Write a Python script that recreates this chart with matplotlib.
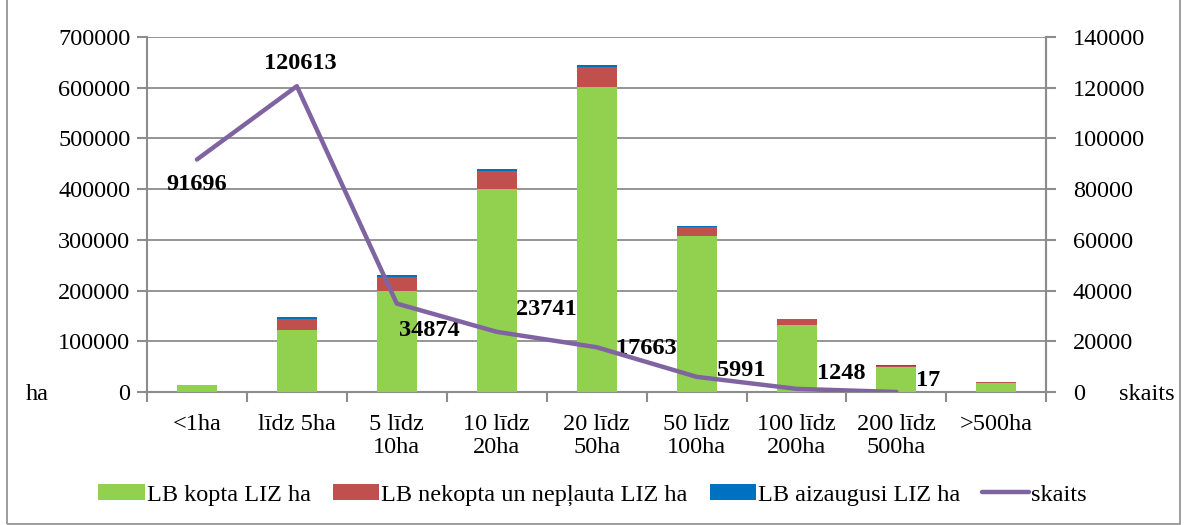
import numpy as np
import matplotlib.pyplot as plt
from matplotlib.patches import Rectangle

# data
categories = ['<1ha', 'līdz 5ha', '5 līdz\n10ha', '10 līdz\n20ha', '20 līdz\n50ha',
              '50 līdz\n100ha', '100 līdz\n200ha', '200 līdz\n500ha', '>500ha']
kopta = [13000, 122000, 200000, 400000, 601000, 308000, 133000, 49500, 18000]
nekopta = [500, 22000, 27500, 36000, 40000, 17000, 10000, 2500, 1000]
aizaugusi = [100, 3500, 3000, 4500, 4500, 2000, 1000, 500, 300]
skaits = [91696, 120613, 34874, 23741, 17663, 5991, 1248, 17]

# label offsets in pixels (dx, dy) relative to line points
label_offsets = [(0, -25), (3, 23), (33, -27), (50, 22), (50, -1), (45, 6), (45, 15), (32, 11)]

plt.rcParams['font.family'] = ['Liberation Serif', 'DejaVu Serif']
fs = 17.5
grey = '#8c8c8c'

fig = plt.figure(figsize=(11.85, 5.25), dpi=100)
fig.patches.append(Rectangle((0.006, 0.002), 0.99, 1.2, transform=fig.transFigure,
                             fill=False, edgecolor=grey, lw=1.2))
ax = fig.add_axes([0.124, 0.2533, 0.759, 0.6762])

x = np.arange(len(categories))
w = 0.4
kopta = np.array(kopta)
nekopta = np.array(nekopta)
aizaugusi = np.array(aizaugusi)
b1 = ax.bar(x, kopta, w, color='#92D050', label='LB kopta LIZ ha', zorder=3)
b2 = ax.bar(x, nekopta, w, bottom=kopta, color='#C0504D', label='LB nekopta un nepļauta LIZ ha', zorder=3)
b3 = ax.bar(x, aizaugusi, w, bottom=kopta + nekopta, color='#0070C0',
            label='LB aizaugusi LIZ ha', zorder=3)

ax.set_xlim(-0.5, len(categories) - 0.5)
ax.set_ylim(0, 700000)
ax.set_yticks(np.arange(0, 700001, 100000))
ax.set_yticklabels([str(v) for v in range(0, 700001, 100000)], fontsize=fs)
ax.yaxis.grid(True, color=grey, lw=1.3, zorder=0)
ax.set_axisbelow(True)
ax.set_xticks(x)
ax.set_xticklabels(categories, fontsize=fs, linespacing=1.1)
ax.set_xticks(np.arange(-0.5, len(categories), 1), minor=True)
ax.tick_params(axis='x', which='major', length=0, pad=16)
ax.tick_params(axis='x', which='minor', length=7, color=grey, width=1.5)
ax.tick_params(axis='y', length=7, color=grey, width=1.5, pad=5)
for s in ['top']:
    ax.spines[s].set_visible(False)
for s in ['left', 'bottom', 'right']:
    ax.spines[s].set_color(grey)
    ax.spines[s].set_linewidth(1.5)

ax2 = ax.twinx()
ax2.set_ylim(0, 140000)
ax2.set_yticks(np.arange(0, 140001, 20000))
ax2.set_yticklabels([str(v) for v in range(0, 140001, 20000)], fontsize=fs)
ax2.tick_params(axis='y', length=7, color=grey, width=1.5, pad=12)
for s in ['top', 'left', 'bottom']:
    ax2.spines[s].set_visible(False)
ax2.spines['right'].set_color(grey)
ax2.spines['right'].set_linewidth(1.5)
xs = np.arange(len(skaits))
l1, = ax2.plot(xs, skaits, color='#8064A2', lw=3.2, label='skaits', solid_capstyle='round', zorder=4)
for i, v in enumerate(skaits):
    dx, dy = label_offsets[i]
    ax2.annotate(str(v), (xs[i], v), xytext=(dx * 0.72, dy * 0.72), textcoords='offset points',
                 ha='center', va='center', fontsize=fs, fontweight='bold')

fig.text(37 / 1185, 1 - 394 / 525, 'ha', fontsize=fs, ha='center', va='center')
fig.text(1147 / 1185, 1 - 394 / 525, 'skaits', fontsize=fs, ha='center', va='center')

fig.legend([b1, b2, b3, l1], [b1.get_label(), b2.get_label(), b3.get_label(), 'skaits'],
           loc='center', bbox_to_anchor=(0.5, 1 - 495 / 525), ncol=4, frameon=False,
           fontsize=fs, handlelength=1.9, handleheight=0.6, handletextpad=0.1, columnspacing=0.9)

fig.savefig('out.png', dpi=100)
